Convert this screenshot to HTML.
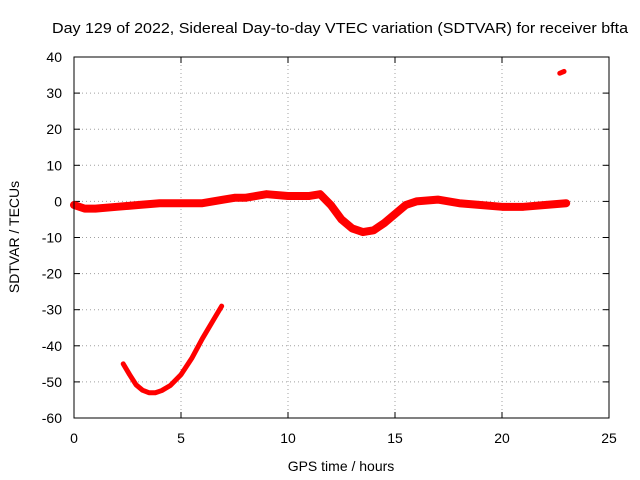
<!DOCTYPE html>
<html><head><meta charset="utf-8"><style>
body{margin:0;background:#fff}
svg{display:block;font-family:"Liberation Sans",sans-serif;font-size:14px}
</style></head><body>
<svg id="c" width="640" height="480">
<rect x="0" y="0" width="640" height="480" fill="#fff"/>
<text x="340" y="33" text-anchor="middle" textLength="576" lengthAdjust="spacingAndGlyphs" style="font-size:15px">Day 129 of 2022, Sidereal Day-to-day VTEC variation (SDTVAR) for receiver bfta</text>
<text x="341" y="471" text-anchor="middle">GPS time / hours</text>
<text transform="translate(19,237) rotate(-90)" text-anchor="middle">SDTVAR / TECUs</text>
<g id="grid"></g><g id="ticks"></g><g id="series"></g>
<rect x="74" y="57" width="535" height="361" fill="none" stroke="#000" stroke-width="1"/>
</svg>
<script>
const xTicks=[0,5,10,15,20,25];
const yTicks=[40,30,20,10,0,-10,-20,-30,-40,-50,-60];
const mainT=[0,0.5,1,2,3,4,5,6,7,7.5,8,9,10,11,11.5,12,12.5,13,13.5,14,14.5,15,15.5,16,17,18,19,20,21,22,23];
const mainV=[-1,-2,-2,-1.5,-1,-0.5,-0.5,-0.5,0.5,1,1,2,1.5,1.5,2,-1,-5,-7.5,-8.5,-8,-6,-3.5,-1,0,0.5,-0.5,-1,-1.5,-1.5,-1,-0.5];
const arcT=[2.3,2.6,2.9,3.2,3.5,3.8,4.1,4.5,5,5.5,6,6.5,6.9];
const arcV=[-45,-48,-50.8,-52.3,-53,-53,-52.4,-51,-48,-43.5,-38,-33,-29];
const topT=[22.7,22.9];
const topV=[35.5,36];
const ns="http://www.w3.org/2000/svg";
const X=t=>74+t*535/25, Y=v=>57+(40-v)*361/100;
function mk(tag,a,p){const e=document.createElementNS(ns,tag);for(const k in a)e.setAttribute(k,a[k]);p.appendChild(e);return e;}
const g=document.getElementById('grid'),tk=document.getElementById('ticks'),s=document.getElementById('series');
xTicks.forEach(t=>{
 const l=mk('line',{x1:X(t),x2:X(t),y1:57,y2:418,stroke:'#a0a0a0','stroke-dasharray':'1,3'},g);
 
 
 const tx=mk('text',{x:X(t),y:443,'text-anchor':'middle'},tk);tx.textContent=t;
 
 
 mk('line',{x1:X(t),x2:X(t),y1:418,y2:412,stroke:'#000'},tk);
 mk('line',{x1:X(t),x2:X(t),y1:57,y2:63,stroke:'#000'},tk);
});
yTicks.forEach(v=>{
 const l=mk('line',{x1:74,x2:609,y1:Y(v),y2:Y(v),stroke:'#a0a0a0','stroke-dasharray':'1,3'},g);
 
 
 const tx=mk('text',{x:62,y:Y(v)+5,'text-anchor':'end'},tk);tx.textContent=v;
 
 
 mk('line',{x1:74,x2:80,y1:Y(v),y2:Y(v),stroke:'#000'},tk);
 mk('line',{x1:609,x2:603,y1:Y(v),y2:Y(v),stroke:'#000'},tk);
});
function series(T,V,w,name){
 const p=mk('polyline',{points:T.map((t,i)=>X(t)+','+Y(V[i])).join(' '),fill:'none',stroke:'#f00','stroke-width':w,'stroke-linejoin':'round','stroke-linecap':'round'},s);
 
 
}
series(mainT,mainV,8,'series-main');
series(arcT,arcV,5,'series-arc');
series(topT,topV,5,'series-top');
</script>
</body></html>
